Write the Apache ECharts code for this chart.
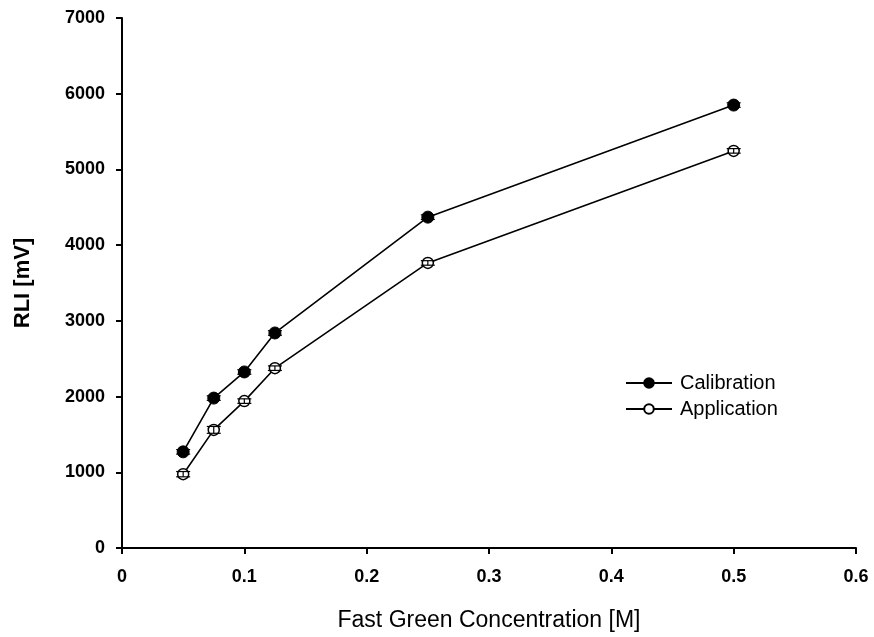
<!DOCTYPE html>
<html>
<head>
<meta charset="utf-8">
<script src="https://cdn.jsdelivr.net/npm/echarts@6/dist/echarts.min.js"></script>
<style>
  html, body { margin: 0; padding: 0; background: #fff; }
  #chart { width: 874px; height: 637px; }
</style>
</head>
<body>
<div id="chart"></div>
<script>
// Fast Green concentration [M]
const concentrations = [0.05, 0.075, 0.1, 0.125, 0.25, 0.5];
// RLI [mV] readings
const calibration = [1270, 1980, 2325, 2840, 4370, 5850];
const application = [975, 1560, 1940, 2375, 3765, 5245];
// standard deviations [mV]
const calibrationErr = [30, 30, 30, 30, 30, 30];
const applicationErr = [35, 45, 30, 30, 30, 30];
const yTicks = [0, 1000, 2000, 3000, 4000, 5000, 6000, 7000];
const xTicks = [0, 0.1, 0.2, 0.3, 0.4, 0.5, 0.6];

const font = '"Liberation Sans", Arial, sans-serif';

function errorData(vals, errs) {
  return concentrations.map((x, i) => [x, vals[i] - errs[i], vals[i] + errs[i]]);
}

function renderErrorBar(params, api) {
  const x = api.value(0);
  const lo = api.coord([x, api.value(1)]);
  const hi = api.coord([x, api.value(2)]);
  const half = 7;
  const style = { stroke: '#000', lineWidth: 1.2 };
  return {
    type: 'group',
    children: [
      { type: 'line', shape: { x1: lo[0], y1: lo[1], x2: hi[0], y2: hi[1] }, style },
      { type: 'line', shape: { x1: lo[0] - half, y1: lo[1], x2: lo[0] + half, y2: lo[1] }, style },
      { type: 'line', shape: { x1: hi[0] - half, y1: hi[1], x2: hi[0] + half, y2: hi[1] }, style }
    ]
  };
}

const chart = echarts.init(document.getElementById('chart'));
chart.setOption({
  animation: false,
  backgroundColor: '#fff',
  grid: { left: 122, right: 18, top: 18, bottom: 89 },
  legend: {
    left: 620, top: 368, orient: 'vertical',
    itemWidth: 46, itemHeight: 12, itemGap: 6,
    textStyle: { fontFamily: font, fontSize: 20, color: '#000', padding: [0, 0, 0, 3] },
    data: ['Calibration', 'Application']
  },
  xAxis: {
    type: 'value', min: 0, max: 0.6, interval: 0.1,
    name: 'Fast Green Concentration [M]', nameLocation: 'middle', nameGap: 61,
    nameTextStyle: { fontFamily: font, fontSize: 23, color: '#000' },
    axisLine: { lineStyle: { color: '#000', width: 2 } },
    axisTick: { show: true, length: 6, lineStyle: { color: '#000', width: 2 } },
    axisLabel: { fontFamily: font, fontSize: 18, fontWeight: 'bold', color: '#000', margin: 20,
      formatter: v => xTicks.includes(+v.toFixed(1)) ? String(+v.toFixed(1)) : '' },
    splitLine: { show: false }
  },
  yAxis: {
    type: 'value', min: 0, max: 7000, interval: 1000,
    name: 'RLI [mV]', nameLocation: 'middle', nameGap: 88, nameRotate: 90,
    nameTextStyle: { fontFamily: font, fontSize: 22, fontWeight: 'bold', color: '#000' },
    axisLine: { show: true, lineStyle: { color: '#000', width: 2 } },
    axisTick: { show: true, length: 6, lineStyle: { color: '#000', width: 2 } },
    axisLabel: { fontFamily: font, fontSize: 18, fontWeight: 'bold', color: '#000', margin: 17,
      formatter: v => yTicks.includes(v) ? String(v) : '' },
    splitLine: { show: false }
  },
  series: [
    {
      name: 'Calibration', type: 'line',
      data: concentrations.map((x, i) => [x, calibration[i]]),
      symbol: 'circle', symbolSize: 12,
      lineStyle: { color: '#000', width: 1.6 },
      itemStyle: { color: '#000', borderColor: '#000', borderWidth: 1 },
      z: 3
    },
    {
      name: 'Application', type: 'line',
      data: concentrations.map((x, i) => [x, application[i]]),
      symbol: 'circle', symbolSize: 11,
      lineStyle: { color: '#000', width: 1.6 },
      itemStyle: { color: '#fff', borderColor: '#000', borderWidth: 1.5 },
      z: 3
    },
    {
      type: 'custom', renderItem: renderErrorBar,
      data: errorData(calibration, calibrationErr), z: 4, silent: true
    },
    {
      type: 'custom', renderItem: renderErrorBar,
      data: errorData(application, applicationErr), z: 4, silent: true
    }
  ]
});
</script>
</body>
</html>
